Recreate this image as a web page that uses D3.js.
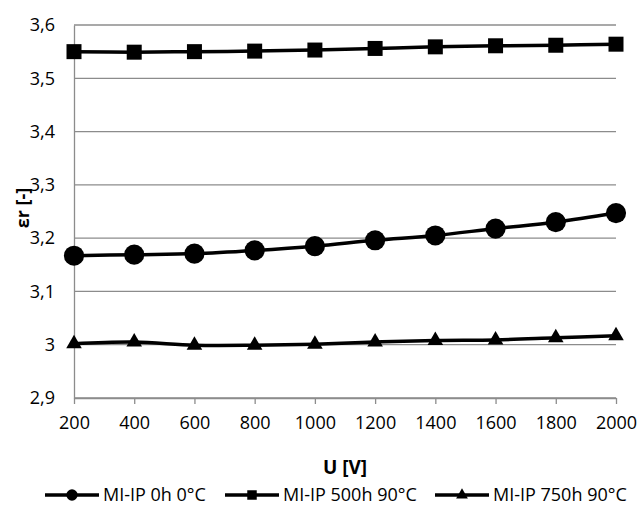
<!DOCTYPE html>
<meta charset="utf-8">
<style>
body { margin: 0; background: #fff; }
text { font-family: "Open Sans", "Liberation Sans", sans-serif; fill: #000; }
.grid line { stroke: #8c8c8c; stroke-width: 1.3; }
.line { fill: none; stroke: #000; stroke-width: 3.5; }
</style>
<body>
<script src="https://d3js.org/d3.v7.min.js"></script>
<script>
// data
var voltages = [200, 400, 600, 800, 1000, 1200, 1400, 1600, 1800, 2000];
var er0h   = [3.167, 3.169, 3.171, 3.177, 3.185, 3.196, 3.205, 3.218, 3.230, 3.247];
var er500h = [3.550, 3.549, 3.550, 3.551, 3.553, 3.556, 3.559, 3.561, 3.562, 3.564];
var er750h = [3.002, 3.005, 2.999, 2.999, 3.001, 3.005, 3.008, 3.009, 3.013, 3.017];
var yTicks = [2.9, 3.0, 3.1, 3.2, 3.3, 3.4, 3.5, 3.6];
var seriesNames = ["MI-IP 0h 0°C", "MI-IP 500h 90°C", "MI-IP 750h 90°C"];

var series = [
  {name: seriesNames[0], values: er0h, symbol: d3.symbolCircle, size: 320, legSize: 100},
  {name: seriesNames[1], values: er500h, symbol: d3.symbolSquare, size: 225, legSize: 90},
  {name: seriesNames[2], values: er750h, symbol: d3.symbolTriangle, size: 105, legSize: 60}
];

var W = 639, H = 505;
var margin = {top: 25, right: 23, bottom: 107, left: 74};
var width = W - margin.left - margin.right,
    height = H - margin.top - margin.bottom;

var svg = d3.select("body").append("svg")
    .attr("width", W).attr("height", H);

var g = svg.append("g")
    .attr("transform", "translate(" + margin.left + "," + margin.top + ")");

var x = d3.scaleLinear().domain([200, 2000]).range([0, width]);
var y = d3.scaleLinear().domain([2.9, 3.6]).range([height, 0]);

var fmt = function(d) { return d3.format(".1~f")(d).replace(".", ","); };

// horizontal gridlines
g.append("g").attr("class", "grid")
  .selectAll("line").data(yTicks).enter().append("line")
    .attr("x1", 0).attr("x2", width)
    .attr("y1", function(d) { return y(d); })
    .attr("y2", function(d) { return y(d); });

// y axis
var yAxis = g.append("g").call(d3.axisLeft(y).tickValues(yTicks).tickFormat(fmt).tickSize(0).tickPadding(19));
yAxis.select(".domain").attr("stroke", "#8c8c8c").attr("stroke-width", 1.3);
yAxis.selectAll("text").style("font-size", "18px");

// x axis
var xAxis = g.append("g")
    .attr("transform", "translate(0," + height + ")")
    .call(d3.axisBottom(x).tickValues(voltages).tickFormat(d3.format("d"))
      .tickSize(6).tickPadding(12).tickSizeOuter(0));
xAxis.select(".domain").attr("stroke", "#8c8c8c").attr("stroke-width", 1.3);
xAxis.selectAll(".tick line").attr("stroke", "#8c8c8c").attr("stroke-width", 1.3);
xAxis.selectAll("text").style("font-size", "18px");

// titles
svg.append("text")
    .attr("x", 345).attr("y", 474)
    .attr("text-anchor", "middle")
    .style("font-size", "19px").style("font-weight", "bold")
    .text("U [V]");

svg.append("text")
    .attr("transform", "translate(29,208) rotate(-90)")
    .attr("text-anchor", "middle")
    .style("font-size", "18px").style("font-weight", "bold")
    .text("εr [-]");

// lines and markers
var line = d3.line()
    .x(function(d, i) { return x(voltages[i]); })
    .y(function(d) { return y(d); })
    .curve(d3.curveCatmullRom.alpha(0.5));

series.forEach(function(s) {
  g.append("path").attr("class", "line").attr("d", line(s.values));
  g.selectAll(null).data(s.values).enter().append("path")
    .attr("d", d3.symbol().type(s.symbol).size(s.size))
    .attr("transform", function(d, i) { return "translate(" + x(voltages[i]) + "," + y(d) + ")"; })
    .attr("fill", "#000");
});

// legend
var legendX = [45, 225, 435];
var leg = svg.append("g").attr("transform", "translate(0,495)");
series.forEach(function(s, i) {
  var lg = leg.append("g").attr("transform", "translate(" + legendX[i] + ",0)");
  lg.append("line").attr("x1", 0).attr("x2", 54).attr("y1", 0).attr("y2", 0)
    .attr("stroke", "#000").attr("stroke-width", 3.5);
  lg.append("path").attr("d", d3.symbol().type(s.symbol).size(s.legSize))
    .attr("transform", "translate(27,0)");
  lg.append("text").attr("x", 58).attr("y", 0).attr("dy", "0.35em")
    .style("font-size", "18px").text(s.name);
});
</script>
</body>
